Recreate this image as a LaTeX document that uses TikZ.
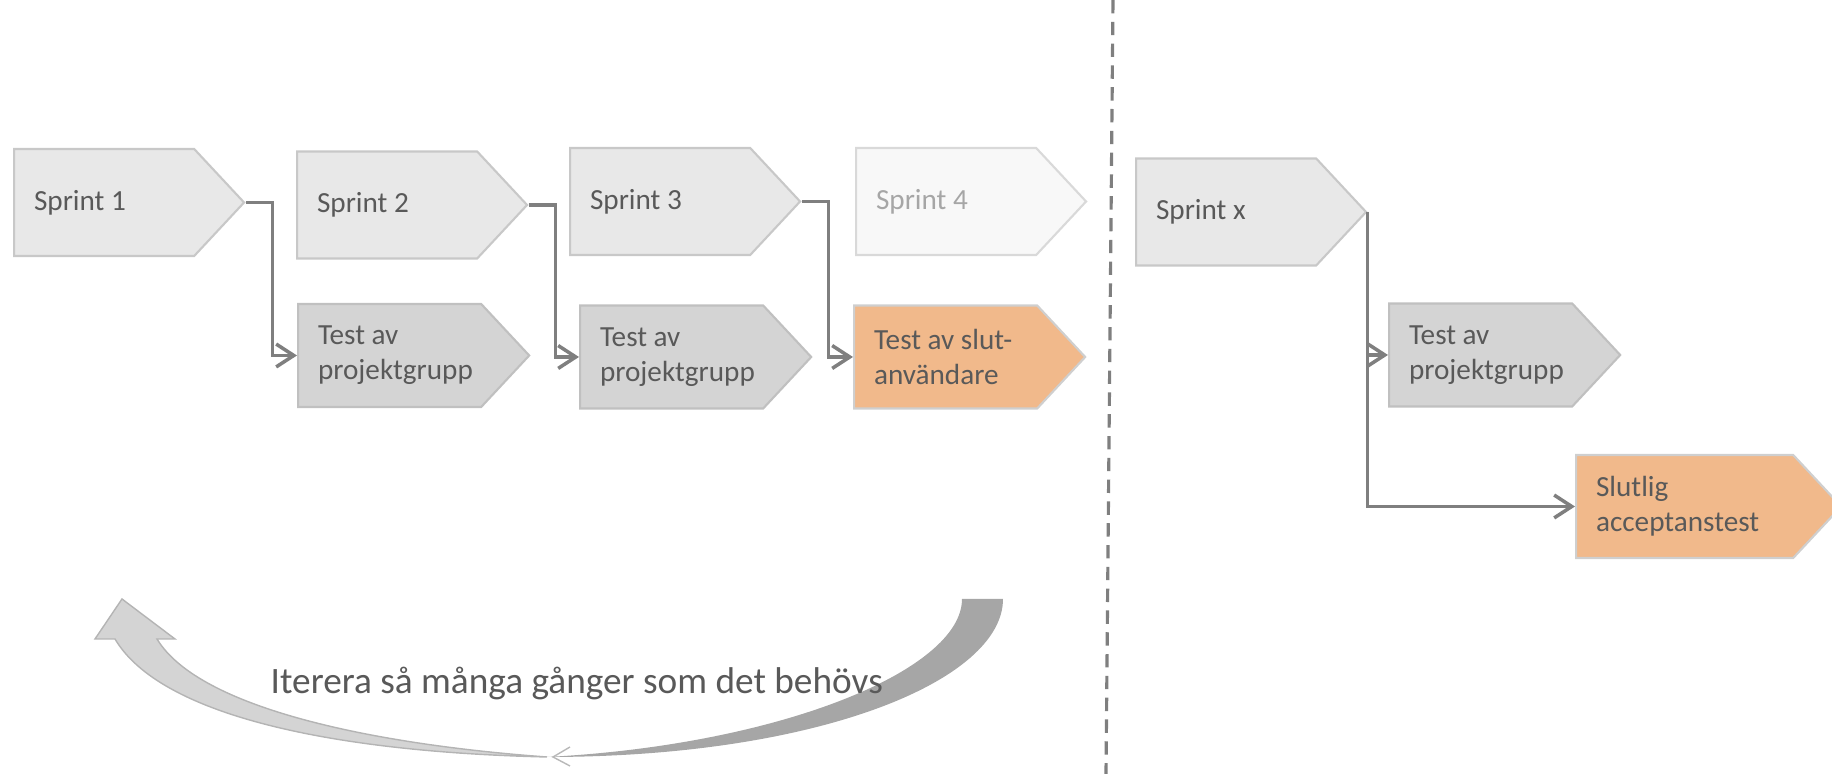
\documentclass[tikz,border=0pt]{standalone}
\usepackage{fontspec}
\setmainfont{Carlito}
\usepackage{xcolor}
\usepackage{tikz}
\usetikzlibrary{shapes.symbols, arrows.meta, positioning, calc}
\definecolor{sprintfill}{HTML}{E8E8E8}
\definecolor{sprintline}{HTML}{C8C8C8}
\definecolor{ghostfill}{HTML}{F8F8F8}
\definecolor{ghostline}{HTML}{D9D9D9}
\definecolor{testfill}{HTML}{D4D4D4}
\definecolor{testline}{HTML}{C0C0C0}
\definecolor{userfill}{HTML}{F1B98B}
\definecolor{userline}{HTML}{CFCFCF}
\definecolor{textgray}{HTML}{595959}
\definecolor{linegray}{HTML}{7F7F7F}
\definecolor{loopdark}{HTML}{A6A6A6}
\definecolor{looplight}{HTML}{D4D4D4}

\begin{document}
\begin{tikzpicture}[x=0.01cm, y=-0.01cm,
	plate/.style={signal, signal to=east, signal pointer angle=94, line width=0.6pt, inner xsep=0.2cm, inner ysep=0pt, align=flush left, font=\fontsize{8.3}{10}\selectfont, text=textgray, anchor=west},
	sprint/.style={plate, fill=sprintfill, draw=sprintline, text width=1.4cm, minimum height=1.07cm},
	ghost/.style={sprint, fill=ghostfill, draw=ghostline, text=loopdark},
	testbox/.style={plate, fill=testfill, draw=testline, text width=1.43cm, minimum height=1.03cm},
	userbox/.style={testbox, fill=userfill, draw=userline},
	conn/.style={draw=linegray, line width=1pt, -{Straight Barb[length=5pt,width=6.5pt]}}]
	\useasboundingbox (0,0) rectangle (1832,774);

	% sprints
	\node[sprint] (s1) at (13,202.5) {Sprint 1};
	\node[sprint] (s2) at (296,205) {Sprint 2};
	\node[sprint] (s3) at (569,201.5) {Sprint 3};
	\node[ghost] (s4) at (855,201.5) {Sprint 4};
	\node[sprint] (sx) at (1135,212) {Sprint x};

	% tests
	\node[testbox] (t1) at (297,355.5) {Test av\\projektgrupp};
	\node[testbox] (t2) at (579,357) {Test av\\projektgrupp};
	\node[userbox] (t3) at (853,357) {\mbox{Test av slut-}\\användare};
	\node[testbox] (t4) at (1388,355) {Test av\\projektgrupp};
	\node[userbox, text width=1.77cm] (fin) at (1575,506.5) {Slutlig\\acceptanstest};

	\draw[conn] (s1.east) -- ++(27,0) |- (t1.west);
	\draw[conn] (s2.east) -- ++(27,0) |- (t2.west);
	\draw[conn] (s3.east) -- ++(27,0) |- (t3.west);
	\draw[conn] (sx.east) |- (t4.west);
	\draw[conn] (sx.east) |- (fin.west);

	% divider
	\coordinate (top) at (1113,0);
	\coordinate (bot) at (1106,774);
	\draw[linegray, line width=0.9pt, dash pattern=on 3.8pt off 2.4pt] (top) -- (bot);

	% loop arrow
	\fill[loopdark] (962,599) -- (1003,599) .. controls (1003,680) and (820,757) .. (547,757)
		.. controls (780,745) and (962,670) .. (962,599) -- cycle;
	\filldraw[fill=looplight, draw=looplight!85!black, line width=0.4pt] (547,757)
		.. controls (330,752) and (160,715) .. (115,639) -- (95,639) -- (122,599) -- (175,639) -- (157,639)
		.. controls (200,710) and (380,745) .. (547,757) -- cycle;
	\draw[loopdark!80, line width=0.4pt] (570,747) -- (553,757) -- (570,766);
	\node[font=\fontsize{10.6}{12}\selectfont, text=textgray, anchor=base west, inner sep=0pt] (loop) at (270,694) {Iterera så många gånger som det behövs};
\end{tikzpicture}
\end{document}
